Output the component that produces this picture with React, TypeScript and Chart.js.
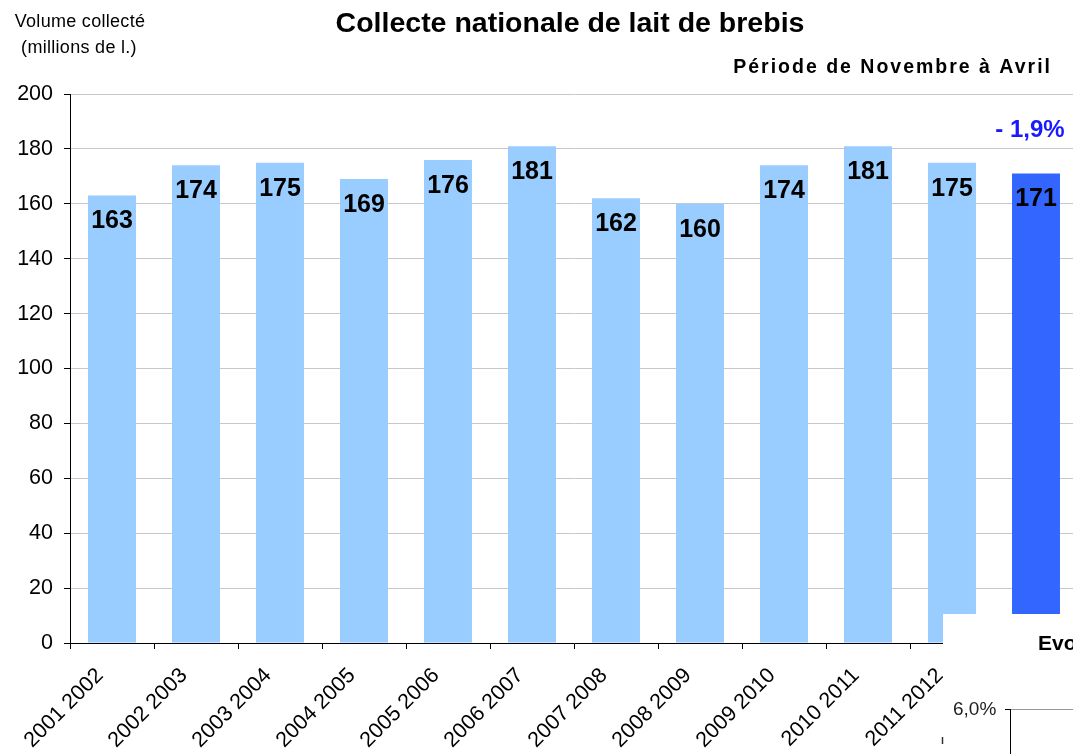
import React, { useEffect, useRef } from "react";
import { Chart, registerables } from "chart.js";

Chart.register(...registerables);

const categories = [
  "2001 2002", "2002 2003", "2003 2004", "2004 2005", "2005 2006", "2006 2007",
  "2007 2008", "2008 2009", "2009 2010", "2010 2011", "2011 2012", "2012 2013",
];
const volumes = [163, 174, 175, 169, 176, 181, 162, 160, 174, 181, 175, 171];
const barColors = [
  "#99CCFF", "#99CCFF", "#99CCFF", "#99CCFF", "#99CCFF", "#99CCFF",
  "#99CCFF", "#99CCFF", "#99CCFF", "#99CCFF", "#99CCFF", "#3366FF",
];
const yTicks = [0, 20, 40, 60, 80, 100, 120, 140, 160, 180, 200];
const titleText = "Collecte nationale de lait de brebis";
const subtitleText = "Période de Novembre à Avril";
const yTitleLines = ["Volume collecté", "(millions de l.)"];
const evolutionText = "- 1,9%";
const insetTitle = "Evo";
const insetTick = "6,0%";

const FONT = "'Liberation Sans', Arial, sans-serif";

const decorPlugin = {
  id: "decor",
  afterDatasetsDraw(chart: any) {
    const ctx = chart.ctx;
    const meta = chart.getDatasetMeta(0);
    ctx.save();
    ctx.fillStyle = "#000";
    ctx.font = `bold 25px ${FONT}`;
    ctx.textAlign = "center";
    ctx.textBaseline = "middle";
    meta.data.forEach((bar: any, i: number) => {
      ctx.fillText(String(volumes[i]), bar.x, bar.y + 26);
    });
    ctx.restore();
  },
  afterDraw(chart: any) {
    const ctx = chart.ctx;
    ctx.save();
    // title
    ctx.fillStyle = "#000";
    ctx.textAlign = "center";
    ctx.textBaseline = "middle";
    ctx.font = `bold 28.5px ${FONT}`;
    ctx.fillText(titleText, 570, 24);
    // subtitle
    ctx.textAlign = "right";
    ctx.font = `bold 19.5px ${FONT}`;
    (ctx as any).letterSpacing = "2px";
    ctx.fillText(subtitleText, 1052, 68);
    (ctx as any).letterSpacing = "0px";
    // y title
    ctx.textAlign = "center";
    ctx.font = `18px ${FONT}`;
    (ctx as any).letterSpacing = "0.3px";
    ctx.fillText(yTitleLines[0], 80, 22);
    ctx.fillText(yTitleLines[1], 79, 48);
    (ctx as any).letterSpacing = "0px";
    // evolution
    ctx.fillStyle = "#1a1aff";
    ctx.font = `bold 24px ${FONT}`;
    ctx.fillText(evolutionText, 1030, 130);
    // inset overlay (cropped embedded chart)
    ctx.fillStyle = "#fff";
    ctx.fillRect(943, 614, 200, 200);
    ctx.fillStyle = "#000";
    ctx.textAlign = "left";
    ctx.font = `bold 21px ${FONT}`;
    ctx.fillText(insetTitle, 1038, 644);
    ctx.font = `19px ${FONT}`;
    ctx.fillStyle = "#222";
    ctx.fillText(insetTick, 953, 710);
    ctx.strokeStyle = "#999";
    ctx.lineWidth = 1;
    ctx.beginPath();
    ctx.moveTo(1011, 709.5);
    ctx.lineTo(1080, 709.5);
    ctx.stroke();
    ctx.strokeStyle = "#000";
    ctx.beginPath();
    ctx.moveTo(1005, 709.5);
    ctx.lineTo(1011, 709.5);
    ctx.moveTo(1010.5, 709);
    ctx.lineTo(1010.5, 760);
    ctx.stroke();
    ctx.strokeStyle = "#333";
    ctx.lineWidth = 1.5;
    ctx.beginPath();
    ctx.moveTo(942.5, 737);
    ctx.lineTo(942.5, 744);
    ctx.stroke();
    ctx.restore();
  },
};

export default function App() {
  const ref = useRef<HTMLCanvasElement | null>(null);
  useEffect(() => {
    if (!ref.current) return;
    const chart = new Chart(ref.current, {
      type: "bar",
      data: {
        labels: categories,
        datasets: [
          {
            data: volumes,
            backgroundColor: barColors,
            borderWidth: 0,
            categoryPercentage: 1,
            barPercentage: 0.571,
          },
        ],
      },
      options: {
        animation: false,
        responsive: false,
        devicePixelRatio: 1,
        layout: { padding: { top: 94, right: 22, left: 0, bottom: 0 } },
        plugins: {
          legend: { display: false },
          tooltip: { enabled: false },
          title: { display: false },
        },
        scales: {
          x: {
            afterFit(scale: any) {
              scale.height = 111;
            },
            grid: {
              display: true,
              drawOnChartArea: false,
              drawTicks: true,
              tickLength: 6,
              tickColor: "#000",
              offset: true,
            },
            border: { display: true, color: "#000", width: 1 },
            ticks: {
              minRotation: 45,
              maxRotation: 45,
              autoSkip: false,
              padding: 14,
              labelOffset: -12,
              color: "#000",
              font: { family: FONT, size: 21.5 },
            },
          },
          y: {
            min: 0,
            max: 200,
            afterFit(scale: any) {
              scale.width = 70;
            },
            afterBuildTicks(scale: any) {
              scale.ticks = yTicks.map((v) => ({ value: v }));
            },
            grid: {
              color: "#c8c8c8",
              tickColor: "#000",
              tickLength: 6,
              lineWidth: 1,
            },
            border: { display: true, color: "#000", width: 1 },
            ticks: {
              padding: 11,
              color: "#000",
              font: { family: FONT, size: 21.5 },
            },
          },
        },
      },
      plugins: [decorPlugin],
    });
    return () => chart.destroy();
  }, []);
  return (
    <div
      style={{
        position: "fixed",
        left: 0,
        top: 0,
        width: 1073,
        height: 754,
        overflow: "hidden",
        background: "#fff",
      }}
    >
      <canvas ref={ref} width={1100} height={754} style={{ display: "block" }} />
    </div>
  );
}
